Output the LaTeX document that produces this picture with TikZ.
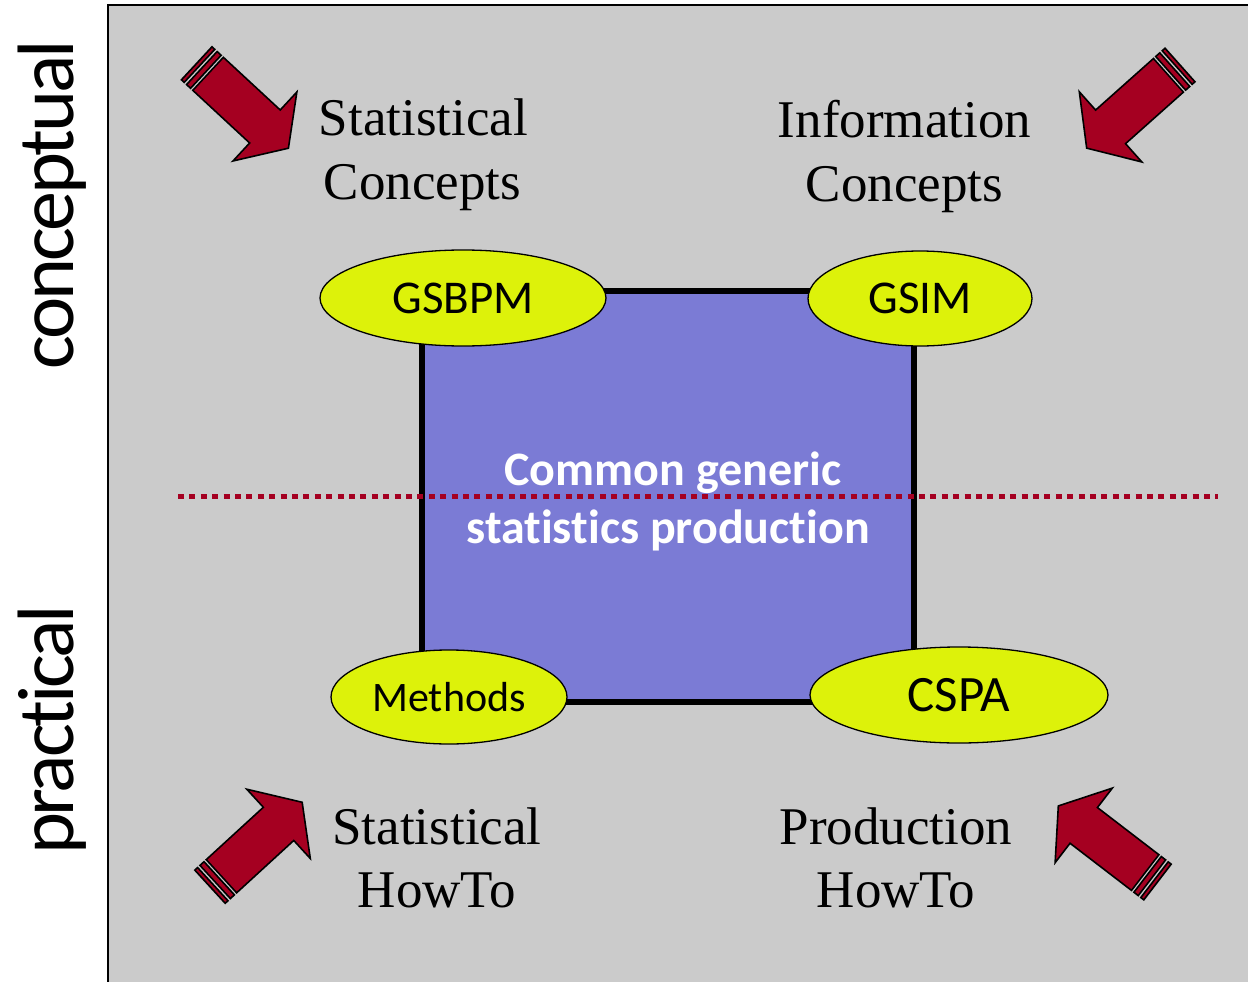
\documentclass[tikz,border=0pt]{standalone}
\usepackage{fontspec}
\setmainfont{Liberation Serif}
\newfontfamily\carlitofont[Ligatures=NoCommon]{Carlito}
\newfontfamily\carlitoside[LetterSpace=-4,Ligatures=NoCommon]{Carlito}
\usetikzlibrary{shapes.geometric}
\definecolor{bggrey}{HTML}{CBCBCB}
\definecolor{corepurple}{HTML}{7B7BD5}
\definecolor{ellyellow}{HTML}{DDF20A}
\definecolor{arrowred}{HTML}{A50021}
\tikzset{
  arrowpart/.style={draw=black,line width=1.6pt,fill=arrowred,line join=miter},
  stripearrow/.pic={
    \path[arrowpart] (15.5,-22.5) -- (93,-22.5) -- (93,-47) -- (125,0) -- (93,47) -- (93,22.5) -- (15.5,22.5) -- cycle;
    \path[arrowpart] (7,-22.5) rectangle (12.5,22.5);
    \path[arrowpart] (0,-22.5) rectangle (3.8,22.5);
  },
  oval/.style={ellipse,draw=black,line width=1.3pt,fill=ellyellow,inner sep=0pt},
  serifline/.style={anchor=base,font=\fontsize{53}{64}\selectfont},
  coretext/.style={anchor=base,text=white,font=\carlitofont\bfseries\fontsize{48}{58}\selectfont},
  sidelabel/.style={anchor=base,rotate=90,font=\carlitoside\fontsize{80}{90}\selectfont},
}
\begin{document}
\begin{tikzpicture}[x=1pt,y=-1pt]
\useasboundingbox (0,0) rectangle (1248,982);
\fill[white] (0,0) rectangle (1248,982);
\path[fill=bggrey,draw=black,line width=2.5pt] (108,5) rectangle (1270,1000);
% core square
\node[draw=black,line width=6pt,fill=corepurple,minimum width=492pt,minimum height=411pt,inner sep=0pt] (core) at (668,496.5) {};
% dotted line
\coordinate (dl) at (178,496);
\coordinate (dr) at (1218,496);
\draw[arrowred,line width=5pt,dash pattern=on 6pt off 5.4pt] (dl) -- (dr);
% ellipses
\node[oval,minimum width=286pt,minimum height=96pt,font=\carlitofont\fontsize{47}{50}\selectfont] (gsbpm) at (463,298) {GSBPM};
\node[oval,minimum width=224pt,minimum height=95pt,font=\carlitofont\fontsize{47}{50}\selectfont] (gsim) at (920,298.5) {GSIM};
\node[oval,minimum width=236pt,minimum height=94pt,font=\carlitofont\fontsize{42}{46}\selectfont] (methods) at (449,697) {Methods};
\node[oval,minimum width=298pt,minimum height=96pt,font=\carlitofont\fontsize{51}{54}\selectfont] (cspa) at (959,695) {CSPA};
% core text
\node[coretext] (c1) at (673,485) {Common generic};
\node[coretext] (c2) at (668,543) {statistics production};
% serif labels
\node[serifline] (sc1) at (423.5,135) {Statistical};
\node[serifline] (sc2) at (422.5,199) {Concepts};
\node[serifline] (ic1) at (904.5,137) {Information};
\node[serifline] (ic2) at (904.5,201) {Concepts};
\node[serifline] (sh1) at (437,844) {Statistical};
\node[serifline] (sh2) at (437,907) {HowTo};
\node[serifline] (ph1) at (896,844) {Production};
\node[serifline] (ph2) at (896,907) {HowTo};
% side labels
\node[sidelabel] (conc) at (73,205) {conceptual};
\node[sidelabel] (prac) at (73,730) {practical};
% arrows
\pic[rotate=-42.8] (atl) at (196.7,63.3) {stripearrow};
\pic[rotate=-138.3] (atr) at (1180,65) {stripearrow};
\pic[rotate=42.5] (abl) at (210,886.7) {stripearrow};
\pic[rotate=142.5] (abr) at (1157.5,882) {stripearrow};
\end{tikzpicture}
\end{document}
